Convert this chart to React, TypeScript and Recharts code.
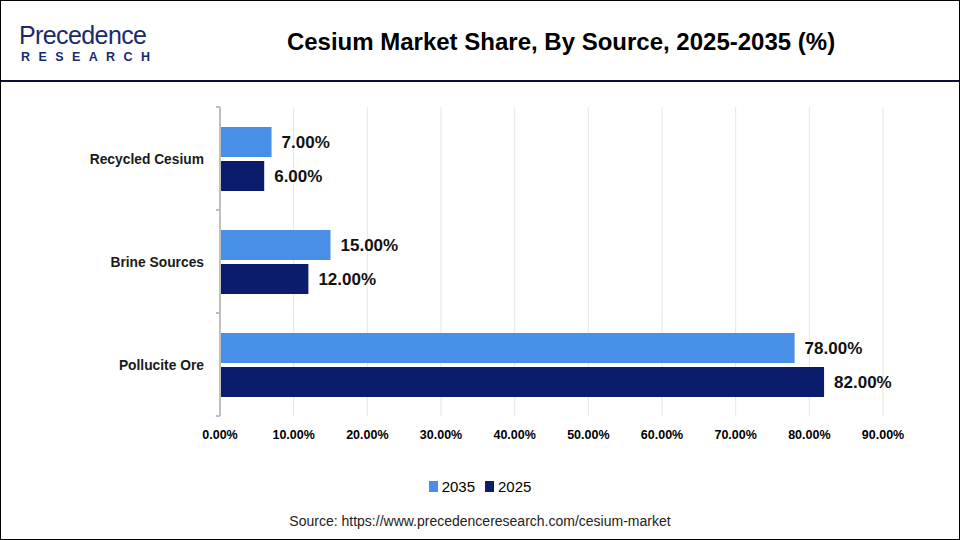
import React from 'react';
import {
  BarChart,
  Bar,
  XAxis,
  YAxis,
  CartesianGrid,
  LabelList
} from 'recharts';

const SOURCES = ['Recycled Cesium', 'Brine Sources', 'Pollucite Ore'];
const SHARE_2035 = [7, 15, 78];
const SHARE_2025 = [6, 12, 82];
const X_TICKS = [0, 10, 20, 30, 40, 50, 60, 70, 80, 90];

const COLOR_2035 = '#4A8FE7';
const COLOR_2025 = '#0A1C6B';
const NARROW = '"Liberation Sans Narrow", "Arial Narrow", Arial, sans-serif';
const ARIAL = 'Arial, "Liberation Sans", sans-serif';

const CHART_TOP = 107;
const CHART_BOTTOM_MARGIN = 124;
const PLOT_HEIGHT = 540 - CHART_TOP - CHART_BOTTOM_MARGIN;
const HALF_BAND = PLOT_HEIGHT / SOURCES.length / 2;

const data = SOURCES.map((source, i) => ({
  source,
  y2035: SHARE_2035[i],
  y2025: SHARE_2025[i]
}));

const pct = (v: number) => `${Number(v).toFixed(2)}%`;

// category label at band centre, small tick marks at band edges
const SourceTick = (props: any) => {
  const { x, y, payload, index } = props;
  return (
    <g>
      <line x1={x + 4} x2={x + 8} y1={y - HALF_BAND} y2={y - HALF_BAND} stroke="#BFBFBF" strokeWidth={2} />
      {index === SOURCES.length - 1 && (
        <line x1={x + 4} x2={x + 8} y1={y + HALF_BAND} y2={y + HALF_BAND} stroke="#BFBFBF" strokeWidth={2} />
      )}
      <text
        x={x - 8}
        y={y}
        dy={5}
        textAnchor="end"
        fontFamily={ARIAL}
        fontWeight="bold"
        fontSize={13.8}
        fill="#1a1a1a"
      >
        {payload.value}
      </text>
    </g>
  );
};

const Logo = () => (
  <div style={{ position: 'absolute', left: 18, top: 22, lineHeight: 1 }}>
    <div
      style={{
        fontFamily: NARROW,
        fontSize: 25,
        color: '#1B2A6B',
        letterSpacing: -0.6
      }}
    >
      Precedence
    </div>
    <div
      style={{
        fontFamily: ARIAL,
        fontSize: 12.5,
        fontWeight: 'bold',
        color: '#1B2A6B',
        letterSpacing: 8.4,
        marginTop: 3,
        marginLeft: 2
      }}
    >
      RESEARCH
    </div>
  </div>
);

export default function App() {
  return (
    <div
      style={{
        position: 'absolute',
        left: 0,
        top: 0,
        width: 960,
        height: 540,
        boxSizing: 'border-box',
        border: '1.5px solid #000',
        background: '#fff',
        overflow: 'hidden'
      }}
    >
      <Logo />
      <div
        style={{
          position: 'absolute',
          left: 180,
          width: 760,
          top: 27,
          textAlign: 'center',
          fontFamily: NARROW,
          fontWeight: 'bold',
          fontSize: 24,
          color: '#000'
        }}
      >
        Cesium Market Share, By Source, 2025-2035 (%)
      </div>
      <div
        style={{
          position: 'absolute',
          left: 0,
          right: 0,
          top: 79,
          height: 2,
          background: '#0B1033'
        }}
      />

      <div style={{ position: 'absolute', left: -1.5, top: -1.5 }}>
        <BarChart
          width={960}
          height={540}
          data={data}
          layout="vertical"
          margin={{ top: CHART_TOP, right: 77, bottom: CHART_BOTTOM_MARGIN - 24, left: 0 }}
          barSize={30}
          barGap={4}
        >
          <CartesianGrid horizontal={false} stroke="#E6E6E6" />
          <XAxis
            type="number"
            domain={[0, 90]}
            ticks={X_TICKS}
            tickFormatter={pct}
            axisLine={false}
            tickLine={false}
            height={24}
            interval={0}
            tick={{ fontFamily: NARROW, fontWeight: 'bold', fontSize: 12.5, fill: '#000' }}
            tickMargin={8}
          />
          <YAxis
            type="category"
            dataKey="source"
            width={220}
            axisLine={{ stroke: '#BFBFBF', strokeWidth: 2 }}
            tickLine={false}
            tick={<SourceTick />}
            interval={0}
          />
          <Bar dataKey="y2035" fill={COLOR_2035} isAnimationActive={false}>
            <LabelList
              dataKey="y2035"
              position="right"
              offset={10}
              formatter={pct}
              style={{ fontFamily: ARIAL, fontWeight: 'bold', fontSize: 17, fill: '#111' }}
            />
          </Bar>
          <Bar dataKey="y2025" fill={COLOR_2025} isAnimationActive={false}>
            <LabelList
              dataKey="y2025"
              position="right"
              offset={10}
              formatter={pct}
              style={{ fontFamily: ARIAL, fontWeight: 'bold', fontSize: 17, fill: '#111' }}
            />
          </Bar>
        </BarChart>
      </div>

      <div
        style={{
          position: 'absolute',
          left: 0,
          right: 0,
          top: 477,
          display: 'flex',
          justifyContent: 'center',
          alignItems: 'center',
          gap: 10,
          fontFamily: NARROW,
          fontSize: 15,
          color: '#000'
        }}
      >
        <span style={{ display: 'flex', alignItems: 'center', gap: 4 }}>
          <span style={{ width: 9, height: 11, background: COLOR_2035, display: 'inline-block' }} />
          2035
        </span>
        <span style={{ display: 'flex', alignItems: 'center', gap: 4 }}>
          <span style={{ width: 9, height: 11, background: COLOR_2025, display: 'inline-block' }} />
          2025
        </span>
      </div>

      <div
        style={{
          position: 'absolute',
          left: 0,
          right: 0,
          top: 512,
          textAlign: 'center',
          fontFamily: NARROW,
          fontSize: 14,
          color: '#222'
        }}
      >
        Source: https://www.precedenceresearch.com/cesium-market
      </div>
    </div>
  );
}
